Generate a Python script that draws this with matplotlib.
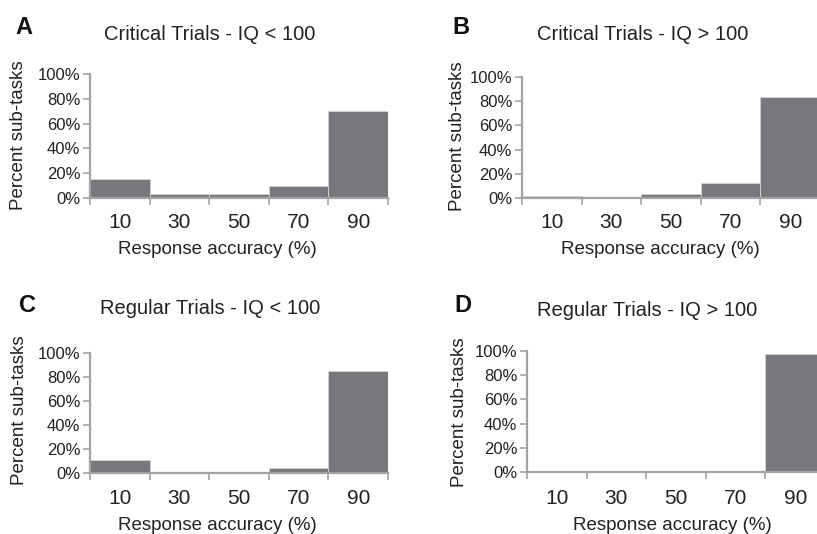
import matplotlib
matplotlib.use("Agg")
import matplotlib.pyplot as plt
from matplotlib.ticker import PercentFormatter

plt.rcParams['font.family'] = ['Liberation Sans', 'DejaVu Sans']

# response accuracy bins (%), bar heights as fraction of sub-tasks
bin_centers = [10, 30, 50, 70, 90]
bin_edges = [0, 20, 40, 60, 80, 100]
crit_low_iq = [0.15, 0.03, 0.03, 0.10, 0.70]
crit_high_iq = [0.02, 0.005, 0.035, 0.12, 0.835]
reg_low_iq = [0.105, 0.0, 0.0, 0.045, 0.85]
reg_high_iq = [0.0, 0.0, 0.0, 0.0, 0.975]

titles = ["Critical Trials - IQ < 100", "Critical Trials - IQ > 100",
          "Regular Trials - IQ < 100", "Regular Trials - IQ > 100"]
letters = ["A", "B", "C", "D"]
values = [crit_low_iq, crit_high_iq, reg_low_iq, reg_high_iq]

W, H = 817, 534
BAR = "#77787b"
AXC = "#a3a3a3"
TXT = "#222222"

# pixel layout per panel: axes box, title, letter, ylabel, tick-label y, xlabel
layout = [
    dict(box=(90, 74, 388, 198), title=(210, 35), letter=(24, 28), ylab=(19, 135), tick_y=222, xlab=(217, 250)),
    dict(box=(522, 77, 820, 198), title=(643, 34), letter=(461, 27), ylab=(457, 136), tick_y=222, xlab=(660, 250)),
    dict(box=(90, 353, 388, 473), title=(210, 309), letter=(27, 305), ylab=(20, 410), tick_y=499, xlab=(217, 526)),
    dict(box=(527, 351, 825, 472), title=(647, 310), letter=(463, 305), ylab=(460, 412), tick_y=498, xlab=(672, 525)),
]

fig = plt.figure(figsize=(W / 100, H / 100), dpi=100)

def px(x, y):
    return x / W, 1 - y / H

for vals, title, letter, lay in zip(values, titles, letters, layout):
    x0, y0, x1, y1 = lay["box"]
    ax = fig.add_axes([x0 / W, 1 - y1 / H, (x1 - x0) / W, (y1 - y0) / H])
    ax.bar(bin_centers, vals, width=20, color=BAR, edgecolor="#d5d5d5", linewidth=0.6, zorder=2)
    ax.set_xlim(0, 100)
    ax.set_ylim(0, 1)
    for s in ["top", "right"]:
        ax.spines[s].set_visible(False)
    for s in ["left", "bottom"]:
        ax.spines[s].set_color(AXC)
        ax.spines[s].set_linewidth(1.6)
        ax.spines[s].set_zorder(3)
    ax.set_yticks([0, 0.2, 0.4, 0.6, 0.8, 1.0])
    ax.yaxis.set_major_formatter(PercentFormatter(1.0, decimals=0))
    ax.tick_params(axis="y", colors=AXC, length=5, width=1.2, labelsize=12,
                   labelcolor=TXT, pad=2)
    # ticks at bin edges, labels at bin centers
    ax.set_xticks(bin_edges)
    ax.set_xticklabels([])
    ax.tick_params(axis="x", which="major", colors=AXC, length=5, width=1.2)
    ax.set_xticks(bin_centers, minor=True)
    ax.set_xticklabels([str(c) for c in bin_centers], minor=True)
    ax.tick_params(axis="x", which="minor", length=0, labelsize=15, labelcolor=TXT,
                   pad=(lay["tick_y"] - y1) * 0.72)
    for lbl in ax.get_xticklabels(minor=True):
        lbl.set_verticalalignment("center")

    fig.text(*px(*lay["title"]), title, ha="center", va="center", fontsize=14.5, color=TXT)
    fig.text(*px(*lay["letter"]), letter, ha="center", va="center", fontsize=17, fontweight="bold", color="#111111")
    fig.text(*px(*lay["ylab"]), "Percent sub-tasks", ha="center", va="center", rotation=90, fontsize=13.5, color=TXT)
    fig.text(*px(*lay["xlab"]), "Response accuracy (%)", ha="center", va="center", fontsize=13.5, color=TXT)

fig.savefig("out.png", dpi=100)
